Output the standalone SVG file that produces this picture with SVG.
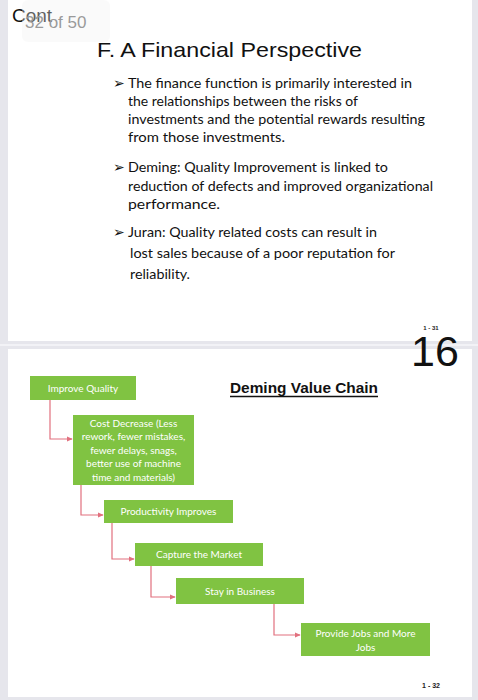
<svg xmlns="http://www.w3.org/2000/svg" width="478" height="700" viewBox="0 0 478 700">
<style>
.frame{fill:#e6e6ec}
.bul{font-family:Lato,"Open Sans",sans-serif;font-size:13.5px;fill:#111}
.arr{font-family:"DejaVu Sans",sans-serif;font-size:14px;fill:#111}
.box{fill:#80c342}
.bt{font-family:Lato,"Open Sans",sans-serif;font-size:10px;fill:#fff;text-anchor:middle}
.con{fill:none;stroke:#e2707e;stroke-width:1.2}
</style>
<defs>
<marker id="ah" viewBox="0 0 8 8" refX="7" refY="4" markerWidth="6" markerHeight="6" orient="auto" markerUnits="userSpaceOnUse">
<path d="M0,0.5 L8,4 L0,7.5 Z" fill="#e2707e"/>
</marker>
</defs>
<rect x="0" y="0" width="478" height="700" fill="#ffffff"/>
<rect class="frame" x="0" y="0" width="8" height="700"/>
<rect class="frame" x="472" y="0" width="6" height="700"/>
<rect class="frame" x="0" y="341" width="478" height="8"/>
<rect x="0" y="344" width="478" height="2" fill="#f2f2f6"/>
<rect class="frame" x="0" y="697" width="478" height="3"/>

<g id="header">
<text x="12" y="22" font-family="Liberation Sans,Arial,sans-serif" font-size="19" fill="#111">Cont</text>
<rect x="22" y="0" width="88" height="42" rx="6" fill="#f0f0f0" opacity="0.35"/>
<text x="25" y="28" font-family="Liberation Sans,Arial,sans-serif" font-size="17" fill="#9a9a9a">32 of 50</text>
<text x="97" y="57" font-family="Liberation Sans,Arial,sans-serif" font-size="21" fill="#111" textLength="265" lengthAdjust="spacingAndGlyphs">F. A Financial Perspective</text>
</g>

<g id="bullets">
<text class="arr" x="113" y="88">➢</text>
<text class="bul" x="128" y="88" textLength="284" lengthAdjust="spacingAndGlyphs">The finance function is primarily interested in</text>
<text class="bul" x="128" y="106" textLength="230" lengthAdjust="spacingAndGlyphs">the relationships between the risks of</text>
<text class="bul" x="128" y="124" textLength="297" lengthAdjust="spacingAndGlyphs">investments and the potential rewards resulting</text>
<text class="bul" x="128" y="142" textLength="157" lengthAdjust="spacingAndGlyphs">from those investments.</text>
<text class="arr" x="113" y="172">➢</text>
<text class="bul" x="128" y="172" textLength="260" lengthAdjust="spacingAndGlyphs">Deming: Quality Improvement is linked to</text>
<text class="bul" x="128" y="191" textLength="305" lengthAdjust="spacingAndGlyphs">reduction of defects and improved organizational</text>
<text class="bul" x="128" y="209" textLength="92" lengthAdjust="spacingAndGlyphs">performance.</text>
<text class="arr" x="113" y="237">➢</text>
<text class="bul" x="128" y="237" textLength="249" lengthAdjust="spacingAndGlyphs">Juran: Quality related costs can result in</text>
<text class="bul" x="130" y="258" textLength="265" lengthAdjust="spacingAndGlyphs">lost sales because of a poor reputation for</text>
<text class="bul" x="130" y="279" textLength="60" lengthAdjust="spacingAndGlyphs">reliability.</text>
</g>

<g id="slide-numbers">
<text x="431" y="330" font-family="Liberation Sans,Arial,sans-serif" font-size="6" font-weight="bold" fill="#222" text-anchor="middle">1 - 31</text>
<text x="435" y="366" font-family="Liberation Sans,Arial,sans-serif" font-size="43" fill="#111" text-anchor="middle">16</text>
<text x="431" y="688" font-family="Liberation Sans,Arial,sans-serif" font-size="7" font-weight="bold" fill="#222" text-anchor="middle">1 - 32</text>
</g>

<g id="title2">
<text x="230" y="393" font-family="Liberation Sans,Arial,sans-serif" font-size="15" font-weight="bold" fill="#111" textLength="148" lengthAdjust="spacingAndGlyphs">Deming Value Chain</text>
<line x1="230" y1="396.5" x2="378" y2="396.5" stroke="#111" stroke-width="1.3"/>
</g>

<g id="connectors">
<path class="con" d="M50,400 V439 H72" marker-end="url(#ah)"/>
<path class="con" d="M81,485 V515 H103" marker-end="url(#ah)"/>
<path class="con" d="M112,523 V559 H134" marker-end="url(#ah)"/>
<path class="con" d="M151,566 V597 H175" marker-end="url(#ah)"/>
<path class="con" d="M274,604 V635 H300" marker-end="url(#ah)"/>
</g>

<g id="n1"><rect class="box" x="30" y="376" width="106" height="24"/><text class="bt" x="83" y="391.5" font-size="11">Improve Quality</text></g>
<g id="n2"><rect class="box" x="73" y="415" width="121" height="70"/>
<text class="bt" x="133.5" y="426.5">Cost Decrease (Less</text>
<text class="bt" x="133.5" y="440">rework, fewer mistakes,</text>
<text class="bt" x="133.5" y="453.5">fewer delays, snags,</text>
<text class="bt" x="133.5" y="467">better use of machine</text>
<text class="bt" x="133.5" y="480.5">time and materials)</text></g>
<g id="n3"><rect class="box" x="104" y="500" width="129" height="23"/><text class="bt" x="168.5" y="515">Productivity Improves</text></g>
<g id="n4"><rect class="box" x="135" y="543" width="128" height="23"/><text class="bt" x="199" y="558">Capture the Market</text></g>
<g id="n5"><rect class="box" x="176" y="578" width="128" height="26"/><text class="bt" x="240" y="594.5">Stay in Business</text></g>
<g id="n6"><rect class="box" x="301" y="623" width="129" height="33"/>
<text class="bt" x="365.5" y="637">Provide Jobs and More</text>
<text class="bt" x="365.5" y="650.5">Jobs</text></g>
</svg>
